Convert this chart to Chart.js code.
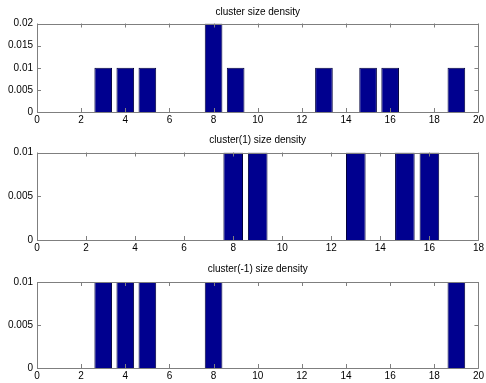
<!DOCTYPE html>
<html>
<head>
<meta charset="utf-8">
<script src="https://cdn.jsdelivr.net/npm/chart.js@4/dist/chart.umd.min.js"></script>
<style>
  body { margin: 0; background: #fff; }
  #wrap { position: relative; width: 486px; height: 383px; overflow: hidden; }
  canvas { position: absolute; left: 0; }
</style>
</head>
<body>
<div id="wrap">
  <canvas id="c1" width="486" height="128" style="top:0px"></canvas>
  <canvas id="c2" width="486" height="128" style="top:128px"></canvas>
  <canvas id="c3" width="486" height="127" style="top:256px"></canvas>
</div>
<script>
// cluster sizes (x) and their densities (y)
const titles = ['cluster size density', 'cluster(1) size density', 'cluster(-1) size density'];

const sizesAll = [3, 4, 5, 8, 9, 13, 15, 16, 19];
const densAll = [0.01, 0.01, 0.01, 0.02, 0.01, 0.01, 0.01, 0.01, 0.01];

const sizesPos = [8, 9, 13, 15, 16];
const densPos = [0.01, 0.01, 0.01, 0.01, 0.01];

const sizesNeg = [3, 4, 5, 8, 19];
const densNeg = [0.01, 0.01, 0.01, 0.01, 0.01];

const xMax = [20, 18, 20];
const yMax = [0.02, 0.01, 0.01];

const FONT = { family: '"Liberation Sans", Arial, Helvetica, sans-serif', size: 10, weight: 'normal' };
const AXIS_COLOR = '#7f7f7f';
const TICK_LEN = 4;

// matlab style box with inward ticks on all four sides
const boxPlugin = {
  id: 'box',
  afterDraw(chart) {
    const ctx = chart.ctx;
    const a = chart.chartArea;
    const xs = chart.scales.x, ys = chart.scales.y;
    ctx.save();
    ctx.strokeStyle = AXIS_COLOR;
    ctx.lineWidth = 1;
    ctx.beginPath();
    ctx.rect(Math.round(a.left) + 0.5, Math.round(a.top) + 0.5,
             Math.round(a.right) - Math.round(a.left), Math.round(a.bottom) - Math.round(a.top));
    xs.ticks.forEach(t => {
      const px = Math.round(xs.getPixelForValue(t.value)) + 0.5;
      ctx.moveTo(px, a.bottom); ctx.lineTo(px, a.bottom - TICK_LEN);
      ctx.moveTo(px, a.top); ctx.lineTo(px, a.top + TICK_LEN);
    });
    ys.ticks.forEach(t => {
      const py = Math.round(ys.getPixelForValue(t.value)) + 0.5;
      ctx.moveTo(a.left, py); ctx.lineTo(a.left + TICK_LEN, py);
      ctx.moveTo(a.right, py); ctx.lineTo(a.right - TICK_LEN, py);
    });
    ctx.stroke();
    ctx.restore();
  }
};

function drawDensity(id, title, sizes, dens, maxX, maxY, titlePad, axisH) {
  const points = sizes.map((s, i) => ({ x: s, y: dens[i] }));
  new Chart(document.getElementById(id), {
    type: 'bar',
    data: {
      datasets: [{
        data: points,
        backgroundColor: 'rgb(0,0,143)',
        borderColor: 'rgb(0,0,60)',
        borderWidth: 1,
        categoryPercentage: 1,
        barPercentage: 0.8
      }]
    },
    options: {
      responsive: false,
      animation: false,
      layout: { padding: { left: 0, right: 5, top: 0, bottom: 0 } },
      plugins: {
        legend: { display: false },
        tooltip: { enabled: false },
        title: {
          display: true,
          text: title,
          color: '#000',
          font: FONT,
          fullSize: false,
          padding: titlePad
        }
      },
      scales: {
        x: {
          type: 'linear',
          min: 0,
          max: maxX,
          offset: false,
          grid: { display: false, drawTicks: false },
          border: { display: false },
          ticks: { stepSize: 2, color: '#000', font: FONT, padding: 2, maxRotation: 0 },
          afterFit(scale) { scale.height = axisH; }
        },
        y: {
          min: 0,
          max: maxY,
          grid: { display: false, drawTicks: false },
          border: { display: false },
          ticks: {
            stepSize: 0.005, color: '#000', font: FONT, padding: 4,
            callback: v => String(parseFloat(v.toFixed(4)))
          },
          afterFit(scale) { scale.width = 37; }
        }
      }
    },
    plugins: [boxPlugin]
  });
}

drawDensity('c1', titles[0], sizesAll, densAll, xMax[0], yMax[0], { top: 6, bottom: 5.5 }, 16);
drawDensity('c2', titles[1], sizesPos, densPos, xMax[1], yMax[1], { top: 6, bottom: 6.5 }, 16);
drawDensity('c3', titles[2], sizesNeg, densNeg, xMax[2], yMax[2], { top: 7, bottom: 7 }, 15);
</script>
</body>
</html>
